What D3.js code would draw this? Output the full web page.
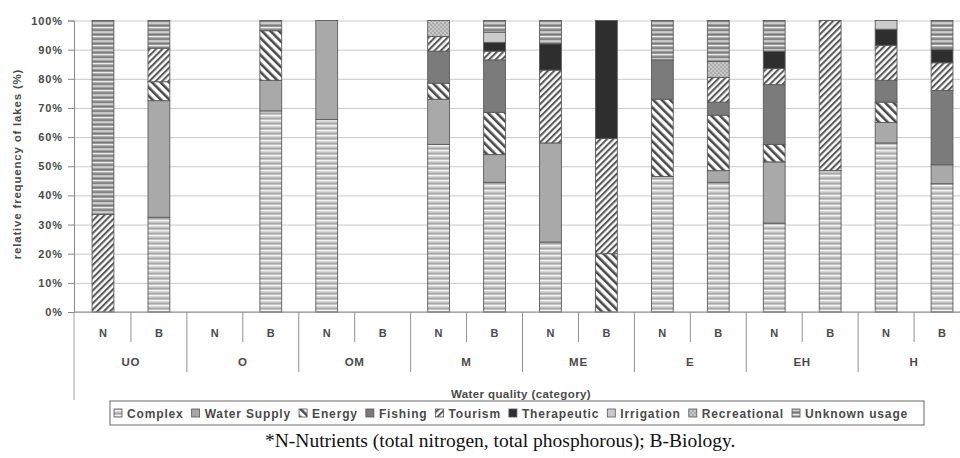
<!DOCTYPE html>
<html><head><meta charset="utf-8">
<script src="https://cdn.jsdelivr.net/npm/d3@7"></script>
<style>body{margin:0;background:#fff}svg{display:block}</style>
</head><body>
<script>
// ---------- DATA ----------
const groups = ["UO","O","OM","M","ME","E","EH","H"];
const subLabels = ["N","B"];
const seriesNames = ["Complex","Water Supply","Energy","Fishing","Tourism","Therapeutic","Irrigation","Recreational","Unknown usage"];
// order of columns: UO-N, UO-B, O-N, O-B, OM-N, OM-B, M-N, M-B, ME-N, ME-B, E-N, E-B, EH-N, EH-B, H-N, H-B
const complex      = [0, 32.5, 0, 69,   66, 0, 57.5, 44.5, 24, 0,    46.5, 44.5, 30.5, 48.5, 58, 44];
const waterSupply  = [0, 40,   0, 10.5, 34, 0, 15.5, 9.5,  34, 0,    0,    4,    21,   0,    7,  6.5];
const energy       = [0, 6.5,  0, 17,   0,  0, 5.5,  14.5, 0,  20,   26.5, 19,   6,    0,    7,  0];
const fishing      = [0, 0,    0, 0,    0,  0, 11,   18,   0,  0,    13.5, 4.5,  20.5, 0,    7.5,25.5];
const tourism      = [33.5,11.5,0, 0,   0,  0, 5,    3,    25, 39.5, 0,    8.5,  5.5,  51.5, 12, 9.5];
const therapeutic  = [0, 0,    0, 0,    0,  0, 0,    3,    9,  40.5, 0,    0,    6,    0,    5.5,4.5];
const irrigation   = [0, 0,    0, 0,    0,  0, 0,    3.5,  0,  0,    0,    0,    0,    0,    3,  0];
const recreational = [0, 0,    0, 0,    0,  0, 5.5,  0,    0,  0,    0,    5.5,  0,    0,    0,  0];
const unknownUsage = [66.5,9.5,0, 3.5,  0,  0, 0,    4,    8,  0,    13.5, 14,   10.5, 0,    0,  10];
const yTicks = [0,10,20,30,40,50,60,70,80,90,100];
const yTitle = "relative frequency of lakes (%)";
const xTitle = "Water quality (category)";
const footnote = "*N-Nutrients (total nitrogen, total phosphorous); B-Biology.";

// ---------- BUILD ----------
const seriesValues = [complex, waterSupply, energy, fishing, tourism, therapeutic, irrigation, recreational, unknownUsage];
const keys = groups.flatMap(g => subLabels.map(s => g + "-" + s));
const rows = keys.map((k, i) => {
  const o = {key: k};
  seriesNames.forEach((n, j) => o[n] = seriesValues[j][i]);
  return o;
});
const stacked = d3.stack().keys(seriesNames)(rows);

const W = 960, H = 458;
const svg = d3.select("body").append("svg").attr("width", W).attr("height", H)
  .style("font-family", "'Liberation Sans', Arial, sans-serif");

// patterns
const defs = svg.append("defs");
function stripes(id, period, dark, color, angle) {
  const p = defs.append("pattern").attr("id", id).attr("patternUnits", "userSpaceOnUse")
    .attr("width", period).attr("height", period).attr("patternTransform", `rotate(${angle})`);
  p.append("rect").attr("width", period).attr("height", period).attr("fill", "#fff");
  p.append("rect").attr("width", dark).attr("height", period).attr("fill", color);
}
function hlines(id, h, bg, lines) {
  const p = defs.append("pattern").attr("id", id).attr("patternUnits", "userSpaceOnUse")
    .attr("width", 8).attr("height", h);
  p.append("rect").attr("width", 8).attr("height", h).attr("fill", bg);
  lines.forEach(([y0, hh, c]) => p.append("rect").attr("y", y0).attr("width", 8).attr("height", hh).attr("fill", c));
}
hlines("pComplex", 5, "#c2c2c2", [[0, 1.4, "#f4f4f4"], [3, 0.9, "#a4a4a4"]]);
hlines("pUnknown", 4.5, "#9a9a9a", [[0, 1.2, "#eeeeee"], [2.6, 1, "#747474"]]);
stripes("pEnergy", 6, 2.6, "#4a4a4a", -45);
stripes("pTourism", 4.5, 2.1, "#5a5a5a", 45);
{
  const p = defs.append("pattern").attr("id", "pRecr").attr("patternUnits", "userSpaceOnUse").attr("width", 4).attr("height", 4);
  p.append("rect").attr("width", 4).attr("height", 4).attr("fill", "#adadad");
  p.append("circle").attr("cx", 1).attr("cy", 1).attr("r", 0.8).attr("fill", "#e8e8e8");
  p.append("circle").attr("cx", 3).attr("cy", 3).attr("r", 0.8).attr("fill", "#e8e8e8");
}
const fills = {
  "Complex": "url(#pComplex)",
  "Water Supply": "#a9a9a9",
  "Energy": "url(#pEnergy)",
  "Fishing": "#7b7b7b",
  "Tourism": "url(#pTourism)",
  "Therapeutic": "#2e2e2e",
  "Irrigation": "#cbcbcb",
  "Recreational": "url(#pRecr)",
  "Unknown usage": "url(#pUnknown)"
};

const plotL = 74, plotT = 20.5, plotB = 312;
const x = d3.scaleBand().domain(keys).range([75, 970]).padding(0);
const y = d3.scaleLinear().domain([0, 100]).range([plotB, plotT]);
const barW = x.bandwidth() * 0.39;

const textCol = "#4a4a4a";

// gridlines
svg.append("g").attr("transform", `translate(${plotL},0)`)
  .call(d3.axisLeft(y).tickValues(yTicks).tickSize(-(W - plotL)).tickFormat(""))
  .call(g => g.select(".domain").remove())
  .call(g => g.selectAll("line").attr("stroke", "#c9c9c9").attr("stroke-width", 1));

// y axis with labels
svg.append("g").attr("transform", `translate(${plotL},0)`)
  .call(d3.axisLeft(y).tickValues(yTicks).tickSize(6).tickPadding(5).tickFormat(d => d + "%"))
  .call(g => g.select(".domain").attr("stroke", "#8a8a8a"))
  .call(g => g.selectAll("line").attr("stroke", "#8a8a8a"))
  .call(g => g.selectAll("text").attr("fill", textCol).style("font-size", "11px")
    .style("font-weight", "bold").style("letter-spacing", "0.9px"));

// bars
svg.append("g").selectAll("g").data(stacked).join("g")
  .attr("fill", d => fills[d.key])
  .selectAll("rect").data(d => d.filter(s => s[1] - s[0] > 0)).join("rect")
  .attr("x", d => x(d.data.key) + (x.bandwidth() - barW) / 2)
  .attr("width", barW)
  .attr("y", d => y(d[1]))
  .attr("height", d => y(d[0]) - y(d[1]))
  .attr("stroke", "#5a5a5a").attr("stroke-width", 0.9);

// bottom axis line
svg.append("line").attr("x1", plotL).attr("x2", W).attr("y1", plotB).attr("y2", plotB)
  .attr("stroke", "#8a8a8a");
// table left border
svg.append("line").attr("x1", plotL).attr("x2", plotL).attr("y1", plotB).attr("y2", 400)
  .attr("stroke", "#a0a0a0");
// dividers
keys.forEach((k, i) => {
  if (i === 0) return;
  const xx = x(k);
  svg.append("line").attr("x1", xx).attr("x2", xx).attr("y1", plotB)
    .attr("y2", i % 2 === 0 ? 372 : 342).attr("stroke", "#909090");
});
// N/B labels
svg.append("g").selectAll("text").data(keys).join("text")
  .attr("x", k => x(k) + x.bandwidth() / 2).attr("y", 337)
  .attr("text-anchor", "middle").attr("fill", textCol)
  .style("font-size", "11px").style("font-weight", "bold")
  .text(k => k.split("-")[1]);
// group labels
svg.append("g").selectAll("text").data(groups).join("text")
  .attr("x", g => (x(g + "-N") + x(g + "-B") + x.bandwidth()) / 2).attr("y", 366)
  .attr("text-anchor", "middle").attr("fill", textCol)
  .style("font-size", "11.5px").style("font-weight", "bold").style("letter-spacing", "0.8px")
  .text(g => g);

// axis titles
svg.append("text").attr("x", 521).attr("y", 398).attr("text-anchor", "middle")
  .attr("fill", textCol).style("font-size", "11.5px").style("font-weight", "bold")
  .style("letter-spacing", "0.4px").text(xTitle);
svg.append("text").attr("transform", "translate(21,164) rotate(-90)").attr("text-anchor", "middle")
  .attr("fill", textCol).style("font-size", "11.5px").style("font-weight", "bold")
  .style("letter-spacing", "0.8px").text(yTitle);

// legend
const leg = svg.append("g");
leg.append("rect").attr("x", 110).attr("y", 401).attr("width", 814).attr("height", 24)
  .attr("fill", "#fff").attr("stroke", "#6a6a6a");
let cx = 114;
seriesNames.forEach(n => {
  leg.append("rect").attr("x", cx).attr("y", 409).attr("width", 8).attr("height", 8)
    .attr("fill", fills[n]).attr("stroke", "#555").attr("stroke-width", 0.8);
  const t = leg.append("text").attr("x", cx + 13).attr("y", 418).attr("fill", textCol)
    .style("font-size", "12px").style("font-weight", "bold").style("letter-spacing", "0.85px").text(n);
  cx = cx + 13 + t.node().getComputedTextLength() + 8;
});

// footnote
svg.append("text").attr("x", 265).attr("y", 447).attr("fill", "#111")
  .style("font-family", "'Liberation Serif', 'Times New Roman', serif").style("font-size", "19.5px")
  .text(footnote);
</script>
</body></html>
